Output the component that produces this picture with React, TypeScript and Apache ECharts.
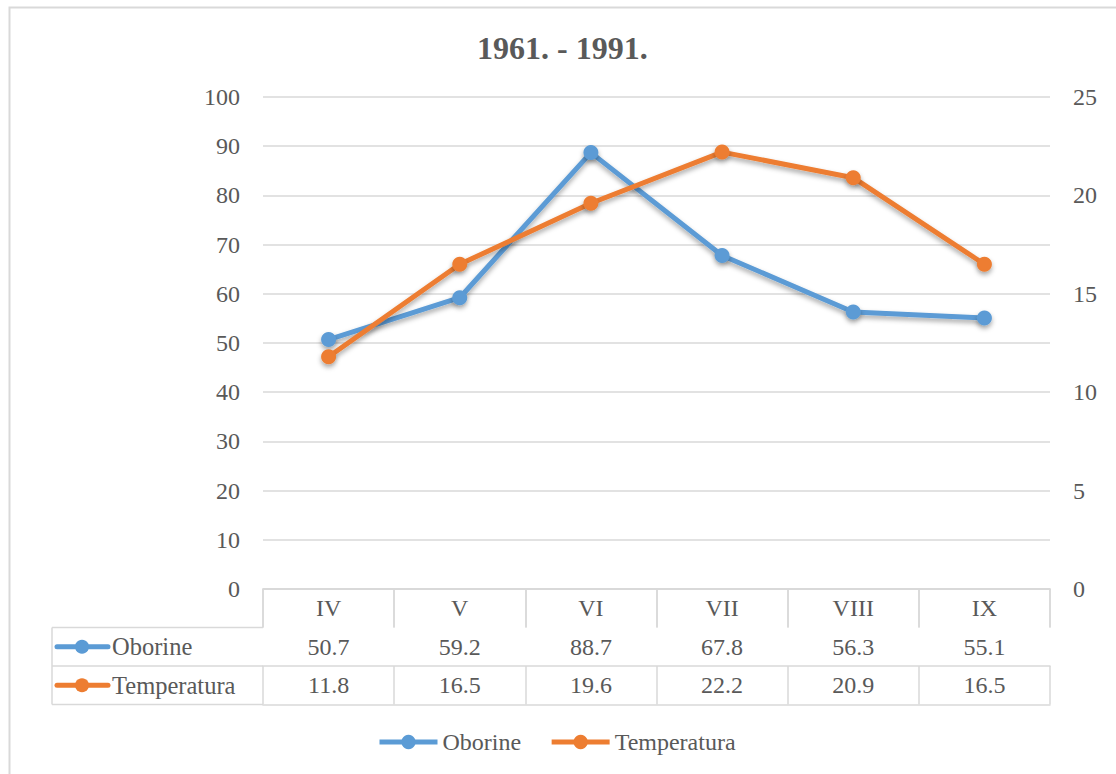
import React, { useEffect, useRef } from "react";
import * as echarts from "echarts";

const categories = ["IV", "V", "VI", "VII", "VIII", "IX"];
const oborine = [50.7, 59.2, 88.7, 67.8, 56.3, 55.1];
const temperatura = [11.8, 16.5, 19.6, 22.2, 20.9, 16.5];
const seriesNames = ["Oborine", "Temperatura"];
const leftTicks = { min: 0, max: 100, interval: 10 };
const rightTicks = { min: 0, max: 25, interval: 5 };

const BLUE = "#5b9bd5";
const ORANGE = "#ed7d31";
const TEXT = "#595959";
const GRIDC = "#d9d9d9";
const FONT = "Liberation Serif";

const W = 1116;
const H = 774;
const G = { left: 263, right: 1050, top: 97, bottom: 589 };
const ROW = 38.5;
const TABLE_LEFT = 52;

export default function App() {
  const ref = useRef<HTMLDivElement>(null);
  useEffect(() => {
    document.body.style.margin = "0";
    if (!ref.current) return;
    const chart = echarts.init(ref.current, null, { renderer: "svg" });

    const shadow = {
      shadowColor: "rgba(0,0,0,0.35)",
      shadowBlur: 5,
      shadowOffsetY: 3,
    };

    const tableAxis = (idx: number, values: number[] | null) => ({
      type: "category",
      data: categories,
      position: "bottom",
      gridIndex: 0,
      offset: ROW * idx,
      boundaryGap: true,
      axisLine: { show: true, lineStyle: { color: GRIDC, width: 1.5 } },
      axisTick: {
        show: values !== null || idx === 0,
        length: ROW,
        lineStyle: { color: GRIDC, width: 1.5 },
      },
      axisLabel: {
        show: true,
        interval: 0,
        margin: 7,
        fontSize: 24,
        lineHeight: 24,
        fontFamily: FONT,
        color: TEXT,
        formatter: (v: string, i: number) =>
          values === null ? (idx === 0 ? v : "") : values[i].toFixed(1),
      },
      splitLine: { show: false },
    });

    const rowKey = (row: number, color: string, name: string) => {
      const cy = G.bottom + ROW * row + ROW / 2;
      return [
        {
          type: "line",
          shape: { x1: 57, y1: cy, x2: 108, y2: cy },
          style: { stroke: color, lineWidth: 5, lineCap: "round" },
        },
        {
          type: "circle",
          shape: { cx: 82, cy, r: 7 },
          style: { fill: color },
        },
        {
          type: "text",
          x: 112,
          y: cy,
          style: {
            text: name,
            fontSize: 24.5,
            fontFamily: FONT,
            fill: TEXT,
            verticalAlign: "middle",
            align: "left",
          },
        },
      ];
    };

    const tableLine = (x1: number, y1: number, x2: number, y2: number) => ({
      type: "line",
      shape: { x1, y1, x2, y2 },
      style: { stroke: GRIDC, lineWidth: 1.5 },
    });

    chart.setOption({
      animation: false,
      backgroundColor: "#ffffff",
      textStyle: { fontFamily: FONT },
      title: {
        text: "1961. - 1991.",
        left: 477,
        top: 32,
        padding: 0,
        textStyle: {
          fontSize: 32,
          fontWeight: "bold",
          fontFamily: FONT,
          color: TEXT,
        },
      },
      legend: {
        data: seriesNames,
        left: 377,
        top: 730,
        padding: 0,
        itemWidth: 58,
        itemHeight: 18,
        itemGap: 28,
        lineStyle: { width: 5 },
        textStyle: { fontSize: 24, fontFamily: FONT, color: TEXT },
      },
      grid: {
        left: G.left,
        right: W - G.right,
        top: G.top,
        bottom: H - G.bottom,
      },
      xAxis: [
        tableAxis(0, null),
        tableAxis(1, oborine),
        tableAxis(2, temperatura),
        { ...tableAxis(3, null), axisTick: { show: false } },
      ],
      yAxis: [
        {
          type: "value",
          ...leftTicks,
          position: "left",
          axisLine: { show: false },
          axisTick: { show: false },
          axisLabel: {
            margin: 23,
            fontSize: 24,
            fontFamily: FONT,
            color: TEXT,
          },
          splitLine: { show: true, lineStyle: { color: GRIDC, width: 1.5 } },
        },
        {
          type: "value",
          ...rightTicks,
          position: "right",
          axisLine: { show: false },
          axisTick: { show: false },
          axisLabel: {
            margin: 23,
            fontSize: 24,
            fontFamily: FONT,
            color: TEXT,
          },
          splitLine: { show: false },
        },
      ],
      series: [
        {
          name: seriesNames[0],
          type: "line",
          data: oborine,
          xAxisIndex: 0,
          yAxisIndex: 0,
          symbol: "circle",
          symbolSize: 15,
          color: BLUE,
          lineStyle: { width: 5, color: BLUE, ...shadow },
          itemStyle: { color: BLUE, ...shadow },
          z: 3,
        },
        {
          name: seriesNames[1],
          type: "line",
          data: temperatura,
          xAxisIndex: 0,
          yAxisIndex: 1,
          symbol: "circle",
          symbolSize: 15,
          color: ORANGE,
          lineStyle: { width: 5, color: ORANGE, ...shadow },
          itemStyle: { color: ORANGE, ...shadow },
          z: 4,
        },
      ],
      graphic: [
        {
          type: "rect",
          shape: { x: 9.5, y: 7.5, width: 1300, height: 1000 },
          style: { fill: "none", stroke: GRIDC, lineWidth: 2 },
          silent: true,
        },
        tableLine(TABLE_LEFT, G.bottom + ROW, G.left, G.bottom + ROW),
        tableLine(TABLE_LEFT, G.bottom + ROW * 2, G.left, G.bottom + ROW * 2),
        tableLine(TABLE_LEFT, G.bottom + ROW * 3, G.left, G.bottom + ROW * 3),
        tableLine(TABLE_LEFT, G.bottom + ROW, TABLE_LEFT, G.bottom + ROW * 3),
        ...rowKey(1, BLUE, seriesNames[0]),
        ...rowKey(2, ORANGE, seriesNames[1]),
      ],
    });
    return () => chart.dispose();
  }, []);
  return <div ref={ref} style={{ width: W, height: H }} />;
}
